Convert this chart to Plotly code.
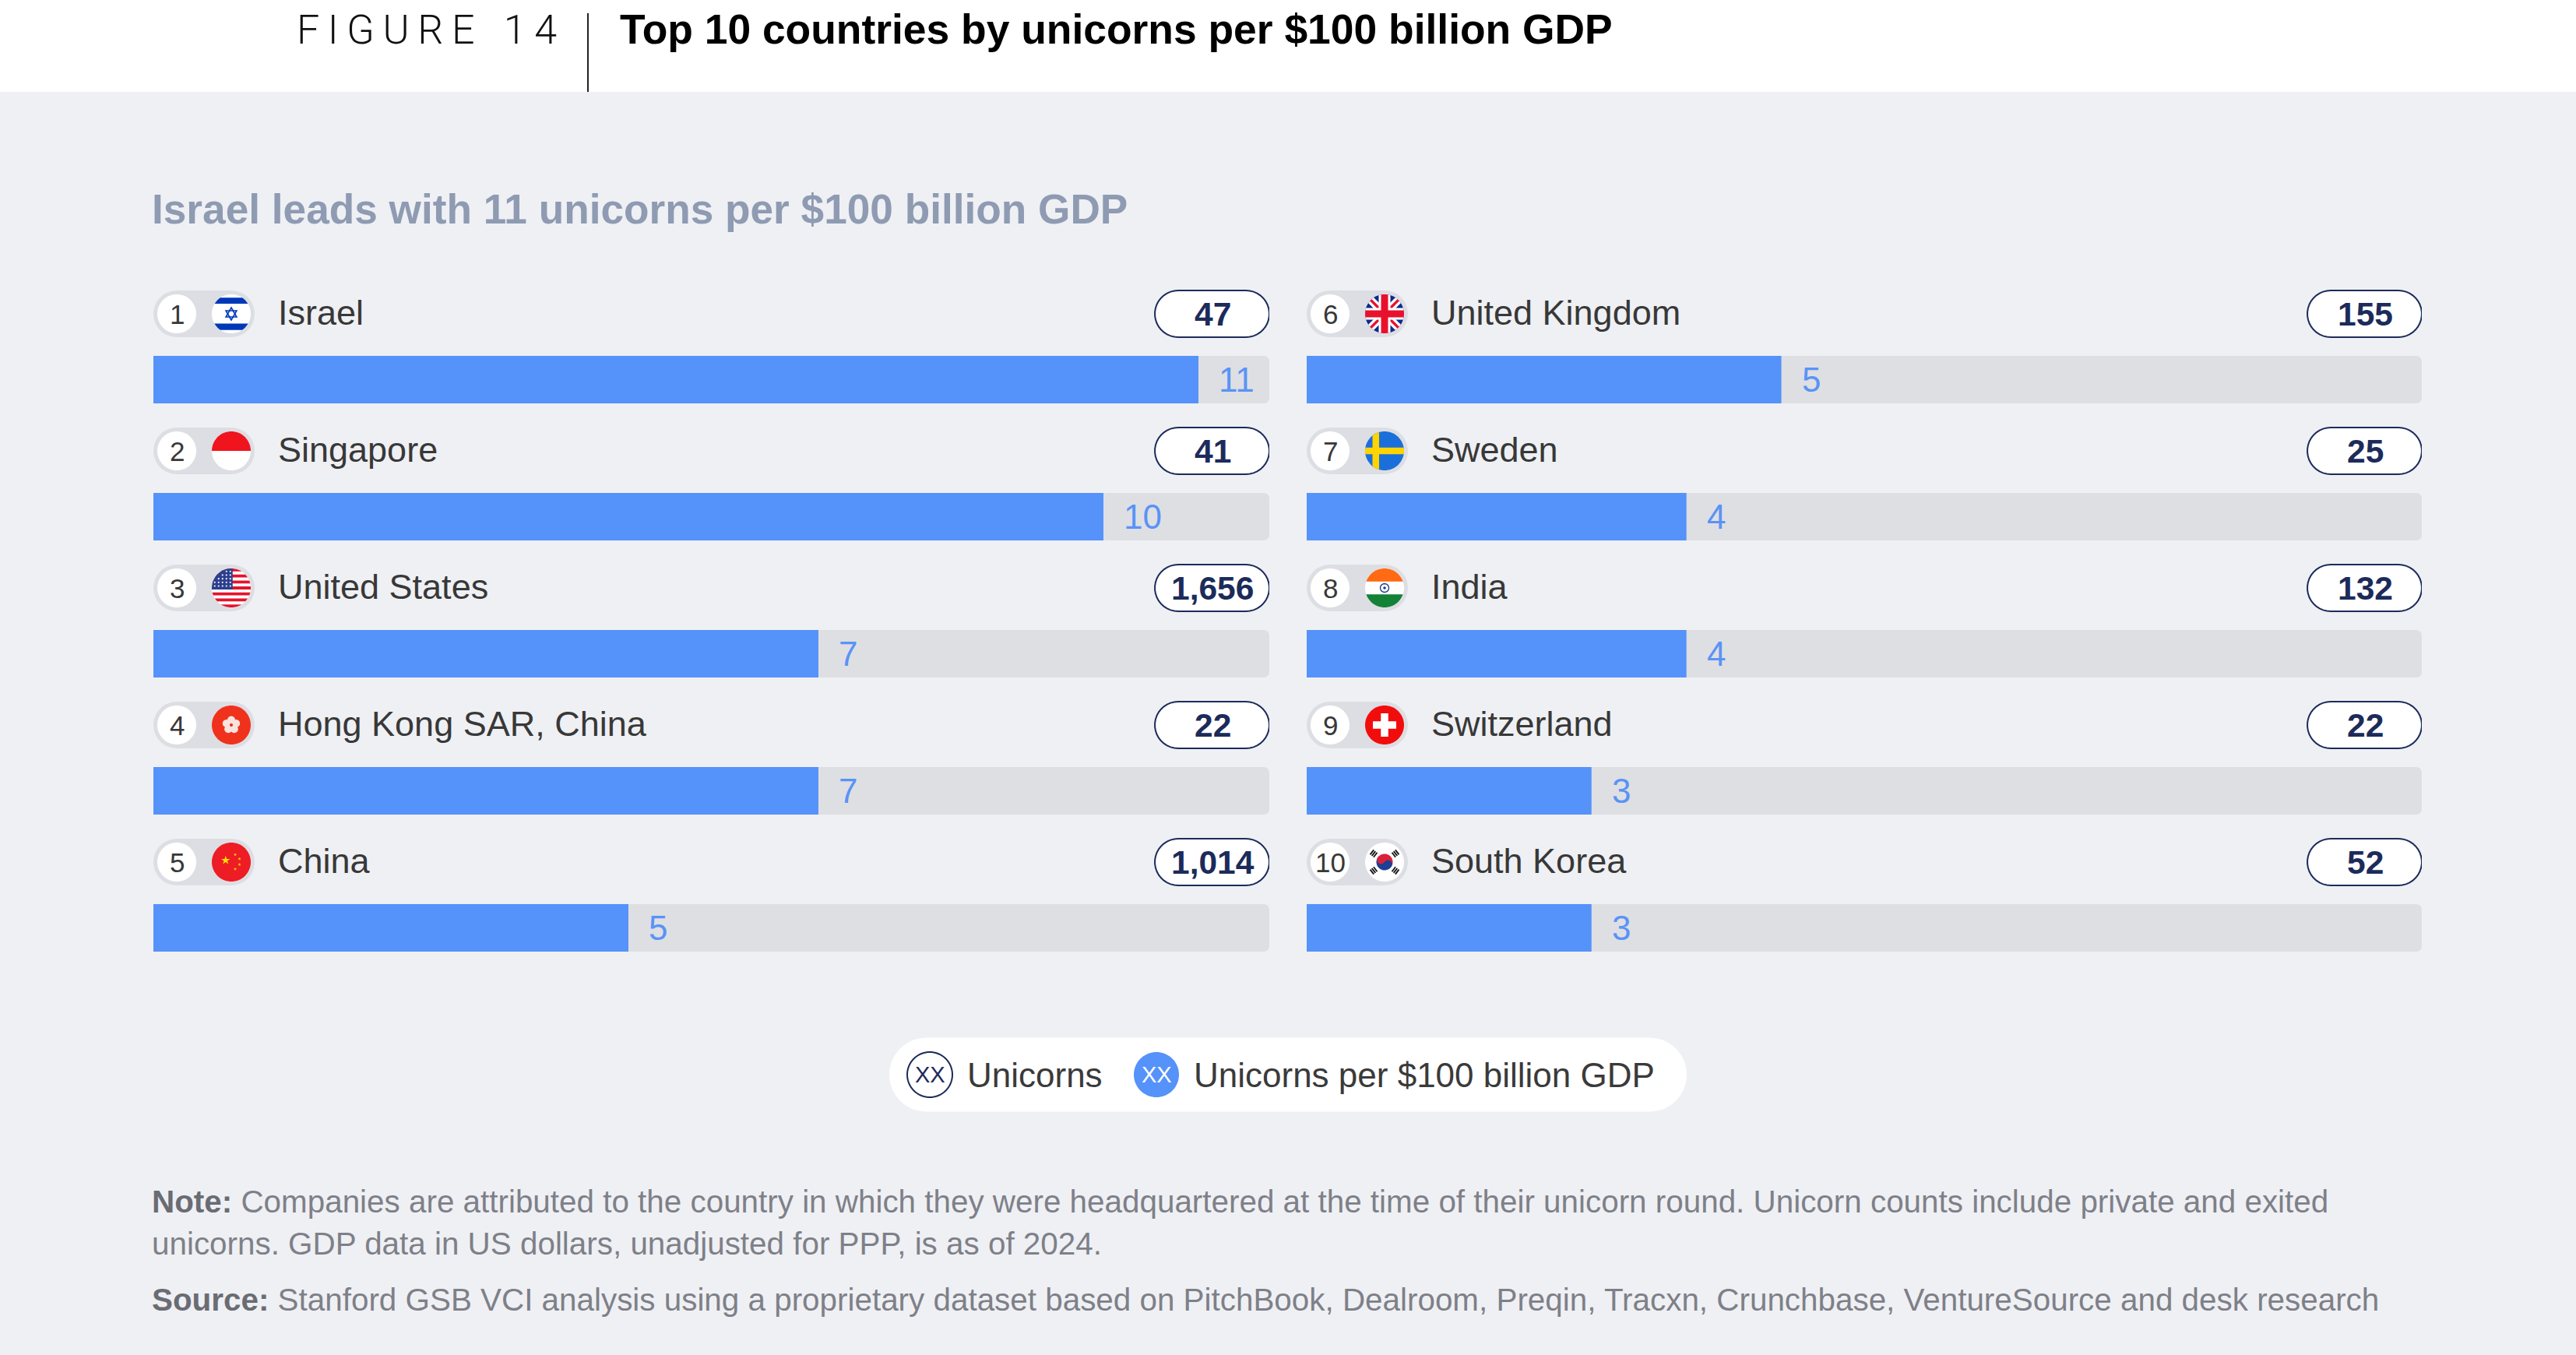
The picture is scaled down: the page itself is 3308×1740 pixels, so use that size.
import numpy as np
import plotly.graph_objects as go

# ---------------- data ----------------
ranks_left = [1, 2, 3, 4, 5]
countries_left = ["Israel", "Singapore", "United States", "Hong Kong SAR, China", "China"]
per_gdp_left = [11, 10, 7, 7, 5]
unicorns_left = [47, 41, 1656, 22, 1014]
flags_left = ["il", "sg", "us", "hk", "cn"]

ranks_right = [6, 7, 8, 9, 10]
countries_right = ["United Kingdom", "Sweden", "India", "Switzerland", "South Korea"]
per_gdp_right = [5, 4, 4, 3, 3]
unicorns_right = [155, 25, 132, 22, 52]
flags_right = ["gb", "se", "in", "ch", "kr"]

legend_labels = ["Unicorns", "Unicorns per $100 billion GDP"]

# ---------------- look ----------------
W, H = 3308, 1740
FONT = "Liberation Sans, Arial, sans-serif"
BG = "#EFF0F4"
BLUE = "#5592FA"
TRACK = "#DEDFE3"
PILL = "#DDDEE3"
NAVY = "#1C2B5A"
TEXT = "#383838"
XMAX = 11.746          # end of the grey track in axis units
ROW_PX = 176           # vertical pitch of a row
TOP_BAR = 487.5        # pixel centre of the first bar
BAR_W = 61 / ROW_PX
LABEL_DY = 84.5        # label line sits this far above the bar centre
R = 25                 # flag radius


def circle_pts(r, cx=0.0, cy=0.0, n=72):
    a = np.linspace(0, 2 * np.pi, n, endpoint=False)
    return [(cx + r * np.cos(t), cy + r * np.sin(t)) for t in a]


def clip(poly, x1, x2, y1, y2):
    def cut(pts, inside, inter):
        out = []
        for i in range(len(pts)):
            cur, prev = pts[i], pts[i - 1]
            if inside(cur):
                if not inside(prev):
                    out.append(inter(prev, cur))
                out.append(cur)
            elif inside(prev):
                out.append(inter(prev, cur))
        return out

    def ix(xv):
        return lambda p, q: (xv, p[1] + (q[1] - p[1]) * (xv - p[0]) / (q[0] - p[0]))

    def iy(yv):
        return lambda p, q: (p[0] + (q[0] - p[0]) * (yv - p[1]) / (q[1] - p[1]), yv)

    pts = cut(poly, lambda p: p[0] >= x1, ix(x1))
    if pts:
        pts = cut(pts, lambda p: p[0] <= x2, ix(x2))
    if pts:
        pts = cut(pts, lambda p: p[1] >= y1, iy(y1))
    if pts:
        pts = cut(pts, lambda p: p[1] <= y2, iy(y2))
    return pts


def piece(r, x1, x2, y1, y2, ang=0.0):
    c, s = np.cos(ang), np.sin(ang)
    pts = clip(circle_pts(r), x1, x2, y1, y2)
    return [(x * c - y * s, x * s + y * c) for x, y in pts]


def star(cx, cy, rr, rot=-np.pi / 2):
    pts = []
    for k in range(10):
        q = rr if k % 2 == 0 else rr * 0.382
        t = rot + k * np.pi / 5
        pts.append((cx + q * np.cos(t), cy + q * np.sin(t)))
    return pts


def pill_pts(x0, x1, h):
    rad = h / 2
    pts = []
    for t in np.linspace(-np.pi / 2, np.pi / 2, 20):
        pts.append((x1 - rad + rad * np.cos(t), rad * np.sin(t)))
    for t in np.linspace(np.pi / 2, 3 * np.pi / 2, 20):
        pts.append((x0 + rad + rad * np.cos(t), rad * np.sin(t)))
    return pts


def flag_parts(code, r):
    fills, lines = [], []
    disk = circle_pts(r)
    if code == "il":
        fills += [(disk, "#FFFFFF"),
                  (piece(r, -r, r, -0.83 * r, -0.52 * r), "#0038B8"),
                  (piece(r, -r, r, 0.50 * r, 0.83 * r), "#0038B8")]
        s = 0.32 * r
        for angs in ([-90, 30, 150], [90, 210, 330]):
            lines.append(([(s * np.cos(a), s * np.sin(a)) for a in np.radians(angs)], "#0038B8", 1.6, True))
    elif code == "sg":
        fills += [(disk, "#FFFFFF"), (piece(r, -r, r, -r, 0), "#F0141E")]
    elif code == "us":
        fills.append((disk, "#FFFFFF"))
        h = 2 * r / 13
        for k in range(0, 13, 2):
            fills.append((piece(r, -r, r, -r + k * h, -r + (k + 1) * h), "#E5132B"))
        fills.append((piece(r, -r, 0.07 * r, -r, -r + 7 * h), "#2C3F8E"))
        for yy in np.linspace(-0.85 * r, -0.1 * r, 5):
            for xx in np.linspace(-0.85 * r, -0.05 * r, 5):
                if xx * xx + yy * yy < (0.9 * r) ** 2:
                    fills.append((circle_pts(1.1, xx, yy, 8), "#FFFFFF"))
    elif code == "hk":
        fills.append((disk, "#F0321C"))
        for k in range(5):
            t = np.radians(-90 + 72 * k)
            fills.append((circle_pts(0.2 * r, 0.26 * r * np.cos(t), 0.26 * r * np.sin(t), 24), "#FBE3DF"))
        fills.append((circle_pts(0.08 * r, 0, 0, 12), "#F0321C"))
    elif code == "cn":
        fills += [(disk, "#EE1C25"), (star(-0.29 * r, -0.09 * r, 0.24 * r), "#FFDE00")]
        for sx, sy in [(0.2, -0.38), (0.42, -0.16), (0.42, 0.13), (0.2, 0.36)]:
            fills.append((star(sx * r, sy * r, 0.09 * r), "#FFDE00"))
    elif code == "gb":
        fills.append((disk, "#0B2A8C"))
        for a in (np.pi / 4, -np.pi / 4):
            fills.append((piece(r, -r, r, -0.2 * r, 0.2 * r, a), "#FFFFFF"))
        for a in (np.pi / 4, -np.pi / 4):
            fills.append((piece(r, -r, r, -0.07 * r, 0.07 * r, a), "#E8112D"))
        fills += [(piece(r, -r, r, -0.3 * r, 0.3 * r), "#FFFFFF"),
                  (piece(r, -0.3 * r, 0.3 * r, -r, r), "#FFFFFF"),
                  (piece(r, -r, r, -0.18 * r, 0.18 * r), "#E8112D"),
                  (piece(r, -0.18 * r, 0.18 * r, -r, r), "#E8112D")]
    elif code == "se":
        fills += [(disk, "#1B6FDB"),
                  (piece(r, -r, r, -0.17 * r, 0.17 * r), "#FFD400"),
                  (piece(r, -0.62 * r, -0.28 * r, -r, r), "#FFD400")]
    elif code == "in":
        fills += [(disk, "#FFFFFF"),
                  (piece(r, -r, r, -r, -0.33 * r), "#FF6A13"),
                  (piece(r, -r, r, 0.33 * r, r), "#138236"),
                  (circle_pts(0.07 * r, 0, 0, 12), "#1E3C96")]
        lines.append((circle_pts(0.22 * r, 0, 0, 24), "#1E3C96", 1.4, True))
    elif code == "ch":
        fills += [(disk, "#F20D0D"),
                  (piece(r, -0.6 * r, 0.6 * r, -0.19 * r, 0.19 * r), "#FFFFFF"),
                  (piece(r, -0.19 * r, 0.19 * r, -0.6 * r, 0.6 * r), "#FFFFFF")]
    elif code == "kr":
        fills.append((disk, "#FFFFFF"))
        rt = 0.42 * r
        a = np.radians(33.7)
        c, s = np.cos(a), np.sin(a)
        fills += [(piece(rt, -rt, rt, -rt, 0, a), "#D9213A"),
                  (piece(rt, -rt, rt, 0, rt, a), "#1D3F94"),
                  (circle_pts(rt / 2, -rt / 2 * c, -rt / 2 * s, 24), "#D9213A"),
                  (circle_pts(rt / 2, rt / 2 * c, rt / 2 * s, 24), "#1D3F94")]
        for sx, sy in [(-1, -1), (1, -1), (-1, 1), (1, 1)]:
            ux, uy = sx * np.cos(np.radians(38)), sy * np.sin(np.radians(38))
            px, py = -uy, ux
            for d in (0.6, 0.71, 0.82):
                cx, cy = d * r * ux, d * r * uy
                hl = 0.15 * r
                lines.append(([(cx - hl * px, cy - hl * py), (cx + hl * px, cy + hl * py)], "#111111", 1.8, False))
    return fills, lines


def to_path(pts, ox, oy, closed=True):
    # screen offsets (y down) -> plotly pixel offsets (y up)
    s = "M " + " L ".join(f"{x + ox:.2f},{-(y + oy):.2f}" for x, y in pts)
    return s + (" Z" if closed else "")


def pix_shape(path, xref, xa, ya, fill=None, line=None, lw=0):
    return dict(type="path", path=path, xref=xref, yref="y",
                xsizemode="pixel", ysizemode="pixel", xanchor=xa, yanchor=ya,
                fillcolor=fill if fill else "rgba(0,0,0,0)",
                line=dict(color=line if line else "rgba(0,0,0,0)", width=lw),
                layer="above")


fig = go.Figure()
shapes = []
annotations = []

columns = [
    ("x", ranks_left, countries_left, per_gdp_left, unicorns_left, flags_left),
    ("x2", ranks_right, countries_right, per_gdp_right, unicorns_right, flags_right),
]

for xref, ranks, names, vals, counts, flags in columns:
    rows = list(range(len(ranks)))
    fig.add_trace(go.Bar(x=[XMAX] * len(rows), y=rows, orientation="h", width=BAR_W,
                         marker=dict(color=TRACK, cornerradius=7, line=dict(width=0)),
                         xaxis=xref, yaxis="y", hoverinfo="skip", showlegend=False))
    fig.add_trace(go.Bar(x=vals, y=rows, orientation="h", width=BAR_W,
                         marker=dict(color=BLUE, cornerradius=7, line=dict(width=0)),
                         xaxis=xref, yaxis="y", hoverinfo="skip", showlegend=False))
    for i, (rk, nm, v, cnt, fl) in enumerate(zip(ranks, names, vals, counts, flags)):
        oy = -LABEL_DY
        # rank pill + white circle
        shapes.append(pix_shape(to_path(pill_pts(0, 130, 60), 0, oy), xref, 0, i, fill=PILL))
        shapes.append(pix_shape(to_path(circle_pts(25, 30, 0), 0, oy), xref, 0, i, fill="#FFFFFF"))
        fills, lines = flag_parts(fl, R)
        for pts, col in fills:
            shapes.append(pix_shape(to_path(pts, 100, oy), xref, 0, i, fill=col))
        for pts, col, lw, closed in lines:
            shapes.append(pix_shape(to_path(pts, 100, oy, closed), xref, 0, i, line=col, lw=lw))
        # unicorn count badge
        shapes.append(pix_shape(to_path(pill_pts(-147, 0, 60), 0, oy), xref, XMAX, i,
                                fill="#FFFFFF", line=NAVY, lw=2))
        annotations += [
            dict(x=0, y=i, xref=xref, yref="y", xshift=30, yshift=LABEL_DY, text=str(rk),
                 showarrow=False, xanchor="center", yanchor="middle",
                 font=dict(family=FONT, size=35, color=TEXT)),
            dict(x=0, y=i, xref=xref, yref="y", xshift=158, yshift=LABEL_DY + 2, text=nm,
                 showarrow=False, xanchor="left", yanchor="middle",
                 font=dict(family=FONT, size=45, color=TEXT)),
            dict(x=XMAX, y=i, xref=xref, yref="y", xshift=-73, yshift=LABEL_DY, text=f"<b>{cnt:,}</b>",
                 showarrow=False, xanchor="center", yanchor="middle",
                 font=dict(family=FONT, size=42.5, color=NAVY)),
            dict(x=v, y=i, xref=xref, yref="y", xshift=24, yshift=0, text=str(v),
                 showarrow=False, xanchor="left", yanchor="middle",
                 font=dict(family=FONT, size=44, color="#5A93F6")),
        ]


def P(x, y):
    return x / W, 1 - y / H


def paper_path(pts, cx, cy):
    out = []
    for x, y in pts:
        px, py = P(x + cx, y + cy)
        out.append(f"{px:.5f},{py:.5f}")
    return "M " + " L ".join(out) + " Z"


# header band and divider
shapes.append(dict(type="rect", xref="paper", yref="paper", x0=0, x1=1, y0=P(0, 118)[1], y1=1,
                   fillcolor="#FFFFFF", line=dict(width=0), layer="below"))
shapes.append(dict(type="line", xref="paper", yref="paper", x0=P(755, 0)[0], x1=P(755, 0)[0],
                   y0=P(0, 17)[1], y1=P(0, 118)[1], line=dict(color="#222222", width=2)))

# legend box
shapes.append(dict(type="path", xref="paper", yref="paper", path=paper_path(pill_pts(1142, 2166, 95), 0, 1380),
                   fillcolor="#FFFFFF", line=dict(width=0), layer="below"))
shapes.append(dict(type="path", xref="paper", yref="paper", path=paper_path(circle_pts(29, 1194, 1380), 0, 0),
                   fillcolor="#FFFFFF", line=dict(color=NAVY, width=2)))
shapes.append(dict(type="path", xref="paper", yref="paper", path=paper_path(circle_pts(29, 1485, 1380), 0, 0),
                   fillcolor=BLUE, line=dict(width=0)))


def add_text(x, y, text, size, color, anchor="left", weight=None, family=FONT):
    px, py = P(x, y)
    f = dict(family=family, size=size, color=color)
    if weight:
        f["weight"] = weight
    annotations.append(dict(x=px, y=py, xref="paper", yref="paper", text=text, showarrow=False,
                            xanchor=anchor, yanchor="middle", font=f))


add_text(717, 38, "F\u2009I\u2009G\u2009U\u2009R\u2009E\u2002\u20091\u20094", 52, "#111111",
         anchor="right", weight=300, family="Roboto, Liberation Sans, sans-serif")
add_text(794, 37, "<b>Top 10 countries by unicorns per $100 billion GDP</b>", 53.4, "#000000")
add_text(193, 268, "<b>Israel leads with 11 unicorns per $100 billion GDP</b>", 53.2, "#8E9BB2")

add_text(1194, 1380, "XX", 29, NAVY, anchor="center")
add_text(1485, 1380, "XX", 29, "#FFFFFF", anchor="center")
add_text(1240, 1380, legend_labels[0], 44, "#3A3A3A")
add_text(1531, 1380, legend_labels[1], 44, "#3A3A3A")

NOTE_C = "#7E8088"
NOTE_SIZE = 40.4
add_text(193, 1543, "<span style='color:#6A6C73'><b>Note:</b></span> Companies are attributed to the country in "
         "which they were headquartered at the time of their unicorn round. Unicorn counts include private and exited",
         NOTE_SIZE, NOTE_C)
add_text(193, 1597, "unicorns. GDP data in US dollars, unadjusted for PPP, is as of 2024.", NOTE_SIZE, NOTE_C)
add_text(193, 1669, "<span style='color:#6A6C73'><b>Source:</b></span> Stanford GSB VCI analysis using a proprietary "
         "dataset based on PitchBook, Dealroom, Preqin, Tracxn, Crunchbase, VentureSource and desk research",
         NOTE_SIZE, NOTE_C)

top = -TOP_BAR / ROW_PX
bottom = top + H / ROW_PX

fig.update_layout(
    width=W, height=H,
    margin=dict(l=0, r=0, t=0, b=0),
    paper_bgcolor=BG, plot_bgcolor="rgba(0,0,0,0)",
    barmode="overlay", showlegend=False,
    xaxis=dict(domain=[197 / W, 1630 / W], range=[0, XMAX], visible=False, fixedrange=True),
    xaxis2=dict(domain=[1678 / W, 3110 / W], range=[0, XMAX], visible=False, anchor="y", fixedrange=True),
    yaxis=dict(domain=[0, 1], range=[bottom, top], visible=False, fixedrange=True),
    shapes=shapes, annotations=annotations,
    font=dict(family=FONT),
)

fig.write_html("out.html", config={"displayModeBar": False},
               post_script="document.body.style.margin='0px';")
